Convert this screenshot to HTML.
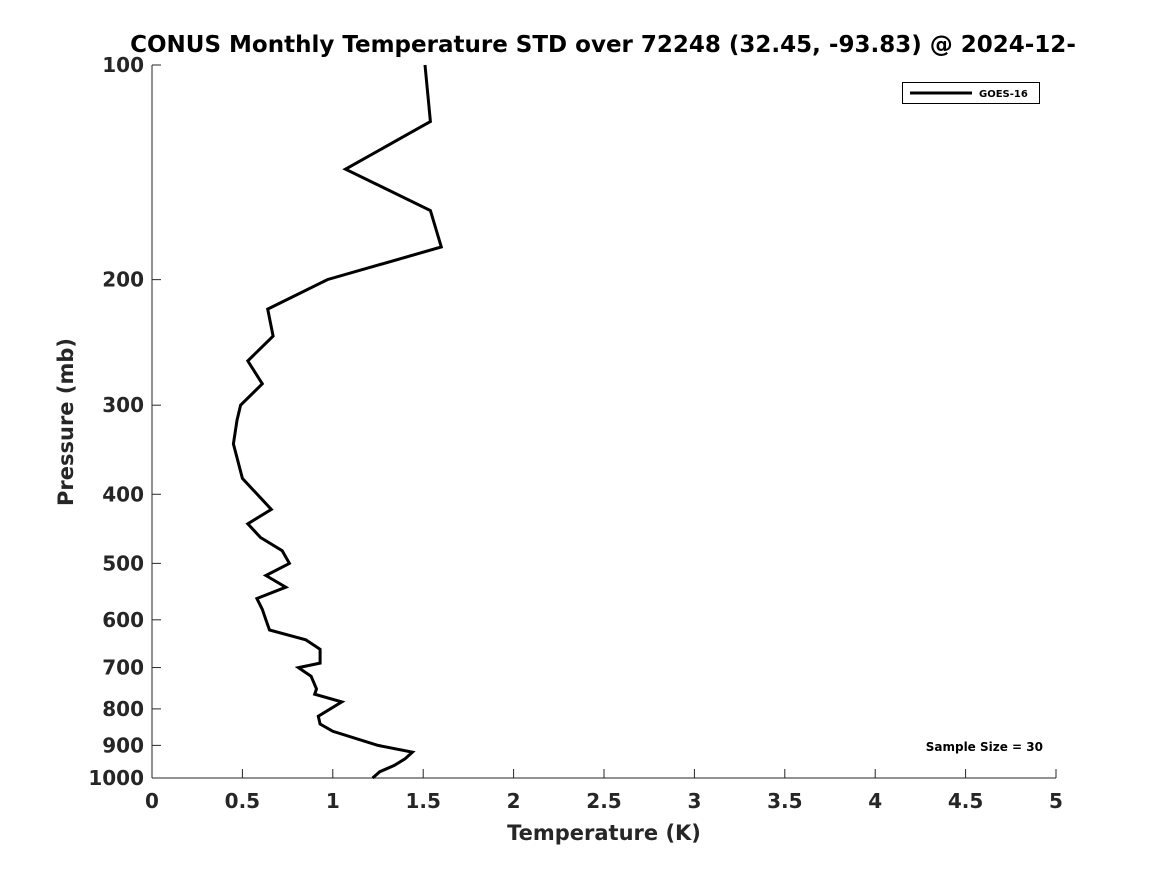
<!DOCTYPE html>
<html><head><meta charset="utf-8"><style>
body{margin:0;background:#fff;}
svg{display:block;font-family:"DejaVu Sans","Liberation Sans",sans-serif;}
</style></head><body>
<svg id="chart" width="1167" height="875" viewBox="0 0 1167 875">
<text x="603" y="52" text-anchor="middle" font-size="23" font-weight="bold" fill="#000">CONUS Monthly Temperature STD over 72248 (32.45, -93.83) @ 2024-12-</text>
<g id="axes"></g>
<g id="series"></g>
<g>
<rect x="902.5" y="82.5" width="137" height="21" fill="#fff" stroke="#000" stroke-width="1"/>
<line x1="910" y1="93" x2="972" y2="93" stroke="#000" stroke-width="3"/>
<text x="979" y="97" font-size="10" font-weight="bold" fill="#000">GOES-16</text>
</g>
<text x="1043" y="751" text-anchor="end" font-size="12" font-weight="bold" fill="#000">Sample Size = 30</text>
<text x="604" y="840" text-anchor="middle" font-size="21" font-weight="bold" fill="#262626">Temperature (K)</text>
<text transform="translate(73,422) rotate(-90)" text-anchor="middle" font-size="21" font-weight="bold" fill="#262626">Pressure (mb)</text>
</svg>
<script>
const temperatureStd = [1.51,1.54,1.07,1.54,1.60,0.97,0.64,0.67,0.53,0.61,0.49,0.47,0.45,0.50,0.66,0.53,0.60,0.72,0.76,0.63,0.74,0.58,0.61,0.63,0.65,0.85,0.93,0.93,0.81,0.88,0.91,0.90,1.05,0.92,0.93,1.00,1.25,1.44,1.40,1.34,1.26,1.22];
const pressureLevels = [100,120,140,160,180,200,220,240,260,280,300,315,340,380,420,440,460,480,500,520,540,560,580,600,620,640,660,690,700,720,750,763,782,819,840,860,900,920,940,960,980,1000];
const xTicks = [0,0.5,1,1.5,2,2.5,3,3.5,4,4.5,5];
const xTickLabels = ["0","0.5","1","1.5","2","2.5","3","3.5","4","4.5","5"];
const yTicks = [100,200,300,400,500,600,700,800,900,1000];
const yTickLabels = ["100","200","300","400","500","600","700","800","900","1000"];

const L=152,R=1056,T=65,B=778;
function xs(v){return L+(v-0)/(5-0)*(R-L);}
function ys(p){return T+(Math.log10(p)-2)/(3-2)*(B-T);}
const NS="http://www.w3.org/2000/svg";
const axes=document.getElementById('axes');
function mk(tag,attrs,parent){const e=document.createElementNS(NS,tag);for(const k in attrs)e.setAttribute(k,attrs[k]);parent.appendChild(e);return e;}

const yl=mk('line',{x1:L,y1:T,x2:L,y2:B,stroke:'#262626','stroke-width':1},axes);


const xl=mk('line',{x1:L,y1:B,x2:R,y2:B,stroke:'#262626','stroke-width':1},axes);



xTicks.forEach((v,i)=>{
  const x=xs(v);
  const t=mk('line',{x1:x,y1:B,x2:x,y2:B-9,stroke:'#262626','stroke-width':1},axes);
  
  
  const lb=mk('text',{x:x,y:B+30,'text-anchor':'middle','font-size':20,'font-weight':'bold',fill:'#262626'},axes);
  lb.textContent=xTickLabels[i];
  
  
});
yTicks.forEach((p,i)=>{
  const y=ys(p);
  const t=mk('line',{x1:L,y1:y,x2:L+9,y2:y,stroke:'#262626','stroke-width':1},axes);
  
  
  const lb=mk('text',{x:L-8,y:y+7,'text-anchor':'end','font-size':20,'font-weight':'bold',fill:'#262626'},axes);
  lb.textContent=yTickLabels[i];
  
  
});

const pts=temperatureStd.map((v,i)=>xs(v).toFixed(1)+','+ys(pressureLevels[i]).toFixed(1)).join(' ');
const line=mk('polyline',{points:pts,fill:'none',stroke:'#000','stroke-width':3,'stroke-linejoin':'miter'},document.getElementById('series'));


</script>
</body></html>
